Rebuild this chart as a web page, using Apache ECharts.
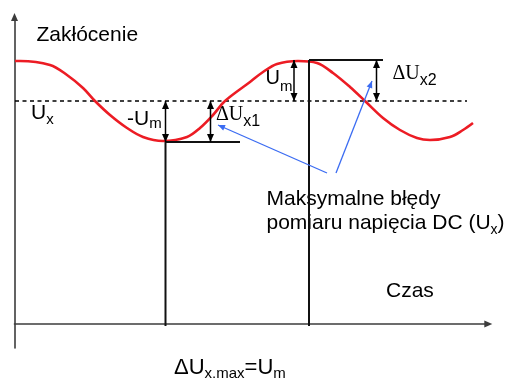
<!DOCTYPE html>
<html>
<head>
<meta charset="utf-8">
<script src="https://cdn.jsdelivr.net/npm/echarts@6/dist/echarts.min.js"></script>
<style>
  html, body { margin: 0; padding: 0; background: #fff; }
  #chart { width: 509px; height: 380px; }
</style>
</head>
<body>
<div id="chart"></div>
<script>
// Sinusoidal disturbance riding on a DC voltage Ux, plotted against time.
// Time samples and the corresponding signal values.
const timePoints = [0.05, 0.55, 3.55, 5.25, 6.85, 8.05, 9.55, 11.25, 12.85, 14.85,
  17.25, 18.55, 19.85, 21.05, 23.55, 24.85, 26.25, 28.35, 30.25, 31.85,
  33.55, 35.05, 36.85, 38.55, 40.25, 41.55, 43.55, 44.85, 45.85];
const signalValues = [26.3, 26.3, 25.9, 24.9, 23.6, 22.3, 20.9, 19.6, 18.7, 18.3,
  18.7, 19.6, 20.9, 22.3, 24.2, 25.2, 26.0, 26.3, 26.1, 25.1,
  23.7, 22.3, 20.6, 19.4, 18.6, 18.4, 18.7, 19.4, 20.1];

// Characteristic levels and instants
const dcLevel = 22.3;       // Ux
const peakLevel = 26.4;     // Ux + Um
const troughLevel = 18.2;   // Ux - Um
const troughTime = 15.1;
const peakTime = 29.45;
const axisFoot = -0.2;

// Dashed reference line at Ux: [t1, v1, t2, v2]
const referenceLine = [[0.05, dcLevel, 45.25, dcLevel]];

// Solid guides: sampling instants and the extreme levels
const guideLines = [
  [troughTime, troughLevel, troughTime, axisFoot],
  [peakTime, peakLevel, peakTime, axisFoot],
  [troughTime, troughLevel, 22.55, troughLevel],
  [peakTime, peakLevel, 36.85, peakLevel]
];

// Double-headed dimension arrows: -Um, ΔUx1, Um, ΔUx2
const dimensionArrows = [
  [troughTime, dcLevel, troughTime, troughLevel],
  [19.6, dcLevel, 19.6, troughLevel],
  [27.95, peakLevel, 27.95, dcLevel],
  [36.2, peakLevel, 36.2, dcLevel]
];

// Pointer arrows from the caption to the two error spans
const pointerArrows = [
  [31.25, 15.1, 20.35, 19.9],
  [32.15, 15.1, 35.75, 24.3]
];

const SANS = "'Liberation Sans', Arial, sans-serif";
const SERIF = "'Liberation Serif', 'Times New Roman', serif";

const chart = echarts.init(document.getElementById('chart'), null, { renderer: 'canvas' });

function pixelPair(api) {
  return [
    api.coord([api.value(0), api.value(1)]),
    api.coord([api.value(2), api.value(3)])
  ];
}

function segmentRenderer(style) {
  return function (params, api) {
    const [p1, p2] = pixelPair(api);
    return {
      type: 'line',
      shape: { x1: p1[0], y1: p1[1], x2: p2[0], y2: p2[1] },
      style: style
    };
  };
}

// Filled arrow head with its tip at `tip`, pointing away from `from`
function arrowHead(tip, from, len, width, color) {
  const dx = tip[0] - from[0], dy = tip[1] - from[1];
  const d = Math.sqrt(dx * dx + dy * dy) || 1;
  const ux = dx / d, uy = dy / d;
  const bx = tip[0] - ux * len, by = tip[1] - uy * len;
  const nx = -uy * width / 2, ny = ux * width / 2;
  return {
    type: 'polygon',
    shape: { points: [[tip[0], tip[1]], [bx + nx, by + ny], [bx - nx, by - ny]] },
    style: { fill: color, stroke: null }
  };
}

function arrowRenderer(color, lineWidth, len, width, bothEnds) {
  return function (params, api) {
    const [p1, p2] = pixelPair(api);
    const children = [{
      type: 'line',
      shape: { x1: p1[0], y1: p1[1], x2: p2[0], y2: p2[1] },
      style: { stroke: color, lineWidth: lineWidth }
    }, arrowHead(p2, p1, len, width, color)];
    if (bothEnds) children.push(arrowHead(p1, p2, len, width, color));
    return { type: 'group', children: children };
  };
}

// Text runs laid out left to right on a common baseline (subscripts dropped)
const measureCtx = document.createElement('canvas').getContext('2d');
function textRuns(x, baseline, parts) {
  const out = [];
  let cx = x;
  parts.forEach(function (p) {
    const font = p.size + 'px ' + p.family;
    measureCtx.font = font;
    const w = measureCtx.measureText(p.text).width;
    const k = p.family === SERIF ? 0.33 : 0.335;
    out.push({
      type: 'text',
      silent: true,
      x: cx,
      y: baseline + (p.drop || 0) - k * p.size,
      style: {
        text: p.text, font: font, fill: '#000',
        align: 'left', verticalAlign: 'middle',
        textAlign: 'left', textVerticalAlign: 'middle'
      }
    });
    cx += w;
  });
  return out;
}

const big = 21, sub = 14;
const labels = [].concat(
  textRuns(36.5, 42.3, [{ text: 'Zakłócenie', size: big, family: SANS }]),
  textRuns(31, 120.5, [
    { text: 'U', size: big, family: SANS },
    { text: 'x', size: 15, family: SANS, drop: 4 }
  ]),
  textRuns(127, 126, [
    { text: '-U', size: big, family: SANS },
    { text: 'm', size: 15, family: SANS, drop: 2.5 }
  ]),
  textRuns(265.5, 85, [
    { text: 'U', size: 20, family: SANS },
    { text: 'm', size: 15, family: SANS, drop: 6.5 }
  ]),
  textRuns(216, 121.5, [
    { text: 'ΔU', size: 20, family: SERIF },
    { text: 'x1', size: 16, family: SANS, drop: 5 }
  ]),
  textRuns(392.5, 80, [
    { text: 'ΔU', size: 20, family: SERIF },
    { text: 'x2', size: 16, family: SANS, drop: 5.5 }
  ]),
  textRuns(266.5, 206.7, [{ text: 'Maksymalne błędy', size: big, family: SANS }]),
  textRuns(266.5, 230, [
    { text: 'pomiaru napięcia DC (U', size: big, family: SANS },
    { text: 'x', size: sub, family: SANS, drop: 4.5 },
    { text: ')', size: big, family: SANS }
  ]),
  textRuns(386, 298.3, [{ text: 'Czas', size: big, family: SANS }]),
  textRuns(174, 375, [
    { text: 'ΔU', size: 22, family: SANS },
    { text: 'x.max', size: 15, family: SANS, drop: 4 },
    { text: '=U', size: 22, family: SANS },
    { text: 'm', size: 15, family: SANS, drop: 4 }
  ])
);

const axisStyle = { color: '#3c3c3c', width: 1.6 };

const option = {
  animation: false,
  backgroundColor: '#ffffff',
  grid: { left: 14.5, right: 20.7, top: 17, bottom: 32, containLabel: false },
  xAxis: {
    type: 'value', min: 0, max: 47.38,
    axisLine: { show: true, onZero: true, symbol: ['none', 'triangle'], symbolSize: [7, 8], lineStyle: axisStyle },
    axisTick: { show: false }, axisLabel: { show: false }, splitLine: { show: false }
  },
  yAxis: {
    type: 'value', min: -2.4, max: 30.7,
    axisLine: { show: true, onZero: false, symbol: ['none', 'triangle'], symbolSize: [7, 8], lineStyle: axisStyle },
    axisTick: { show: false }, axisLabel: { show: false }, splitLine: { show: false }
  },
  series: [
    {
      type: 'custom', name: 'reference', clip: false, silent: true, z: 2,
      data: referenceLine,
      renderItem: segmentRenderer({ stroke: '#000', lineWidth: 1.3, lineDash: [4, 3.5] })
    },
    {
      type: 'line', name: 'signal', z: 3, silent: true,
      data: timePoints.map(function (t, i) { return [t, signalValues[i]]; }),
      smooth: 0.35, showSymbol: false,
      lineStyle: { color: '#ec1c24', width: 2.6 }
    },
    {
      type: 'custom', name: 'guides', clip: false, silent: true, z: 4,
      data: guideLines,
      renderItem: segmentRenderer({ stroke: '#111', lineWidth: 2 })
    },
    {
      type: 'custom', name: 'dimensions', clip: false, silent: true, z: 5,
      data: dimensionArrows,
      renderItem: arrowRenderer('#000', 1.5, 8, 7, true)
    },
    {
      type: 'custom', name: 'pointers', clip: false, silent: true, z: 5,
      data: pointerArrows,
      renderItem: arrowRenderer('#3b6cf2', 1.3, 7, 6, false)
    }
  ],
  graphic: labels
};

chart.setOption(option);
</script>
</body>
</html>
